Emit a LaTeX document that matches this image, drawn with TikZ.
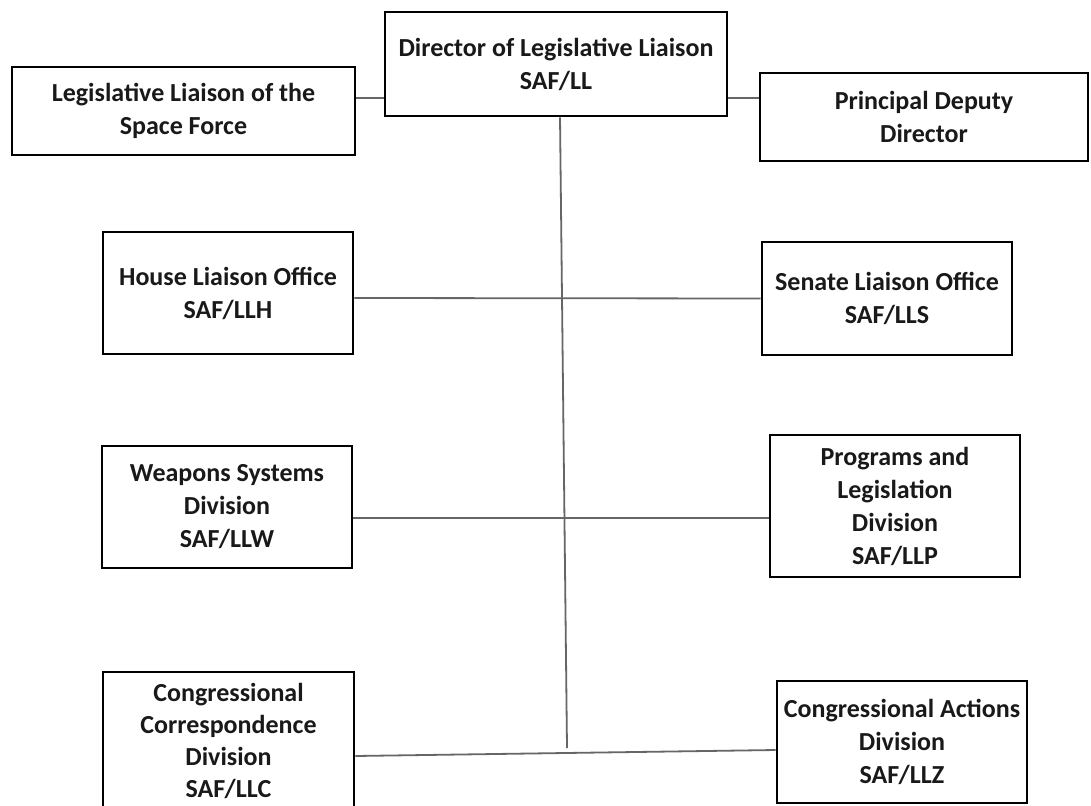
\documentclass[tikz,border=0pt]{standalone}
\usepackage{fontspec}
\setmainfont{Carlito}
\begin{document}
\begin{tikzpicture}[x=1pt, y=-1pt,
    unit/.style={draw=black, line width=2.6pt, rectangle, align=center,
        inner sep=0pt, text=black!90, font=\bfseries\fontsize{26}{33}\selectfont},
    link/.style={draw=black!60, line width=1.8pt}]
    \useasboundingbox (0,0) rectangle (1091,805);
    \fill[white] (0,0) rectangle (1091,805);

    % top row
    \node[unit, minimum width=342pt, minimum height=104pt] (dir) at (556,64)
        {Director of Legislative Liaison\\SAF/LL};
    \node[unit, minimum width=343pt, minimum height=88pt] (space) at (183.5,111)
        {Legislative Liaison of the\\Space Force};
    \node[unit, minimum width=328pt, minimum height=88pt] (deputy) at (924,117)
        {Principal Deputy\\Director};

    % offices and divisions
    \node[unit, minimum width=250pt, minimum height=122pt] (house) at (228,293)
        {House Liaison Office\\SAF/LLH};
    \node[unit, minimum width=250pt, minimum height=113pt] (senate) at (887,298.5)
        {Senate Liaison Office\\SAF/LLS};
    \node[unit, minimum width=250pt, minimum height=122pt] (weapons) at (227,507)
        {Weapons Systems\\Division\\SAF/LLW};
    \node[unit, minimum width=250pt, minimum height=142pt] (programs) at (895,506)
        {Programs and\\Legislation\\Division\\SAF/LLP};
    \node[unit, minimum width=251pt, minimum height=138pt,
          font=\bfseries\fontsize{26}{32}\selectfont] (corresp) at (228.5,741)
        {Congressional\\Correspondence\\Division\\SAF/LLC};
    \node[unit, minimum width=250pt, minimum height=122pt] (actions) at (902,742)
        {Congressional Actions\\Division\\SAF/LLZ};

    \coordinate (trunk) at (567,748);

    % connectors
    \draw[link] ([yshift=13pt]space.east) -- ([yshift=-34pt]dir.west);
    \draw[link] ([yshift=-34pt]dir.east) -- ([yshift=19pt]deputy.west);
    \draw[link] ([xshift=4pt]dir.south) -- (trunk);
    \draw[link] ([yshift=-5pt]house.east) -- (senate.west);
    \draw[link] ([yshift=-11pt]weapons.east) -- ([yshift=-12pt]programs.west);
    \draw[link] ([yshift=-15pt]corresp.east) -- ([yshift=-8pt]actions.west);
\end{tikzpicture}
\end{document}
